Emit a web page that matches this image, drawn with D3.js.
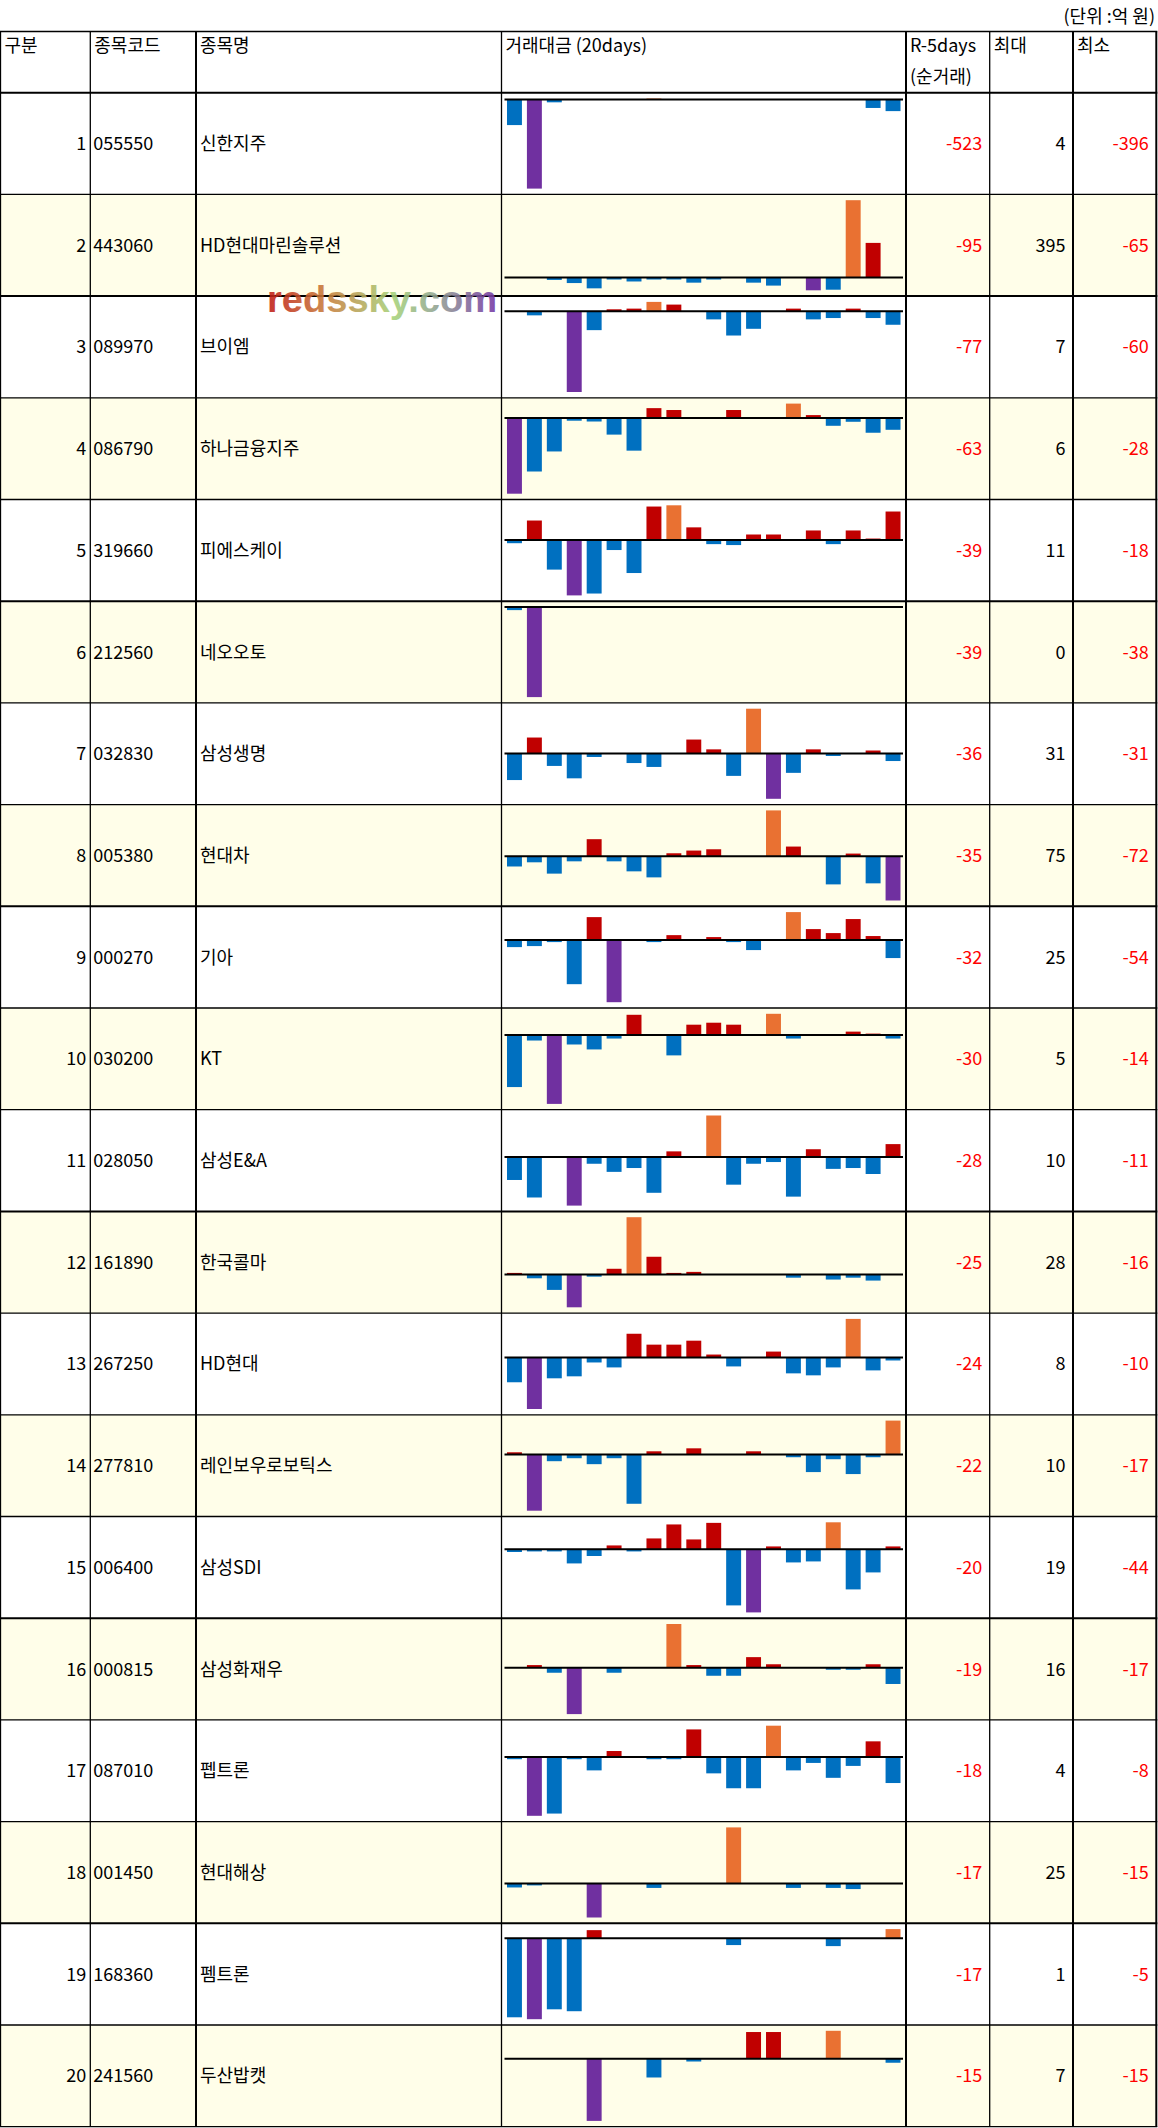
<!DOCTYPE html>
<html>
<head>
<meta charset="utf-8">
<script src="https://cdn.jsdelivr.net/npm/d3@7"></script>
<style>
  body { margin: 0; background: #fff; }
  svg text { font-family: "Noto Sans CJK KR", "Noto Sans", sans-serif; }
</style>
</head>
<body>
<div id="chart"></div>
<script>
// table columns
var headers = ["구분", "종목코드", "종목명", "거래대금 (20days)", "R-5days", "최대", "최소"];
var codes = ["055550", "443060", "089970", "086790", "319660", "212560", "032830", "005380", "000270", "030200",
             "028050", "161890", "267250", "277810", "006400", "000815", "087010", "001450", "168360", "241560"];
var names = ["신한지주", "HD현대마린솔루션", "브이엠", "하나금융지주", "피에스케이", "네오오토", "삼성생명", "현대차", "기아", "KT",
             "삼성E&A", "한국콜마", "HD현대", "레인보우로보틱스", "삼성SDI", "삼성화재우", "펩트론", "현대해상", "펨트론", "두산밥캣"];
var r5days = [-523, -95, -77, -63, -39, -39, -36, -35, -32, -30, -28, -25, -24, -22, -20, -19, -18, -17, -17, -15];
var maxVals = [4, 395, 7, 6, 11, 0, 31, 75, 25, 5, 10, 28, 8, 10, 19, 16, 4, 25, 1, 7];
var minVals = [-396, -65, -60, -28, -18, -38, -31, -72, -54, -14, -11, -16, -10, -17, -44, -17, -8, -15, -5, -15];

// 20 days of net flow per stock (most recent on the left)
var flows = [
  [-114, -396, -13, 0, 0, 0, 0, 4, 0, 0, 0, 0, 0, 0, 0, 0, 0, 0, -38, -52],
  [0, 0, -12, -28, -55, -10, -20, -10, -10, -26, -10, 0, -26, -41, 0, -65, -62, 395, 177, 0],
  [0, -3, 0, -60, -14, 1.5, 2, 7, 5, 0, -6, -18, -13, 0, 2, -6, -5, 2, -5, -10],
  [-28.3, -20, -12.5, -1, -1.3, -6.2, -12.2, 3.7, 3, 0, 0, 3, 0, 0, 5.4, 1.1, -2.9, -1.4, -5.5, -4.4],
  [-1, 6.3, -9.5, -17.8, -17.2, -3.2, -10.6, 10.8, 11.2, 4.1, -1.3, -1.6, 1.8, 1.8, 0, 3.1, -1.3, 3.1, 0.5, 9.2],
  [-1.3, -37.6, 0, 0, 0, 0, 0, 0, 0, 0, 0, 0, 0, 0, 0, 0, 0, 0, 0, 0],
  [-18.5, 11, -8.7, -17.3, -2.5, 0, -6.7, -9.4, 0, 9.6, 2.8, -15.6, 31, -31.5, -13.5, 2.8, -1.8, 0, 2, -5.3],
  [-16.6, -9.8, -28.2, -8.2, 27.8, -8.2, -24.5, -34.3, 4.9, 9.3, 11.4, 0, 0, 74.6, 15.8, 0, -45.7, 4.4, -44, -71.9],
  [-6.3, -5.4, -1.9, -38.8, 20, -54.6, 0, -1.9, 4.2, 0, 2.5, -1.9, -8.9, 0, 24.4, 9.5, 6, 18.3, 3.4, -15.9],
  [-10.5, -1.1, -13.9, -1.9, -2.9, -0.7, 4.1, 0, -4.1, 2.1, 2.5, 2.1, 0, 4.3, -0.7, 0, 0, 0.7, 0.3, -0.7],
  [-5.4, -9.5, 0, -11.4, -1.6, -3.5, -2.6, -8.4, 1.3, 0, 9.7, -6.5, -1.6, -1.2, -9.3, 1.8, -2.8, -2.6, -4, 3],
  [0.8, -1.8, -7.4, -15.8, -1, 2.8, 27.7, 8.6, 0.8, 1.3, 0, 0, 0, 0, -1.5, 0, -2.4, -1.5, -2.9, 0],
  [-5, -10.4, -4.2, -3.8, -1, -2, 4.8, 2.6, 2.6, 3.4, 0.6, -1.8, 0, 1.2, -3.2, -3.6, -2, 7.8, -2.6, -0.6],
  [0.7, -17, -2, -1.1, -2.9, -1.1, -14.9, 1, 0, 1.9, 0, 0, 1, 0, -0.8, -5.3, -1.4, -5.9, -0.8, 10.3],
  [-2, -1.6, -1.6, -10, -4.8, 2.6, -1.6, 7.5, 17.3, 6.8, 18.4, -39.4, -44.3, 1.9, -9.3, -8.6, 18.8, -28.2, -16.3, 1.9],
  [0, 1, -1.8, -16.9, 0, -1.8, 0, 0, 16, 1, -2.9, -2.9, 3.9, 1.3, 0, 0, -0.7, -0.7, 1.3, -5.9],
  [-0.3, -7.9, -7.6, -0.3, -1.8, 0.8, 0, -0.3, -0.3, 3.7, -2.2, -4.2, -4.2, 4.2, -1.8, -0.8, -2.8, -1.2, 2.1, -3.5],
  [-1.7, -0.8, 0, 0, -14.9, 0, 0, -1.9, 0, 0, 0, 24.7, 0, 0, -1.9, 0, -1.9, -2.4, 0, 0],
  [-4.56, -4.67, -4.1, -4.21, 0.46, 0, 0, 0, 0, 0, 0, -0.4, 0, 0, 0, 0, -0.46, 0, 0, 0.52],
  [0, 0, 0, 0, -15.2, 0, 0, -4.6, 0, -0.7, 0, 0, 6.5, 6.5, 0, 0, 6.8, 0, 0, -1]
];

var width = 1158, height = 2128;
var tableTop = 31.5, headH = 61.2, rowH = 101.7;
var edges = [0.5, 90.3, 196, 501.5, 906, 989.7, 1073, 1156.3];
var edgeW = [1.3, 1.3, 2, 1.3, 2, 1.3, 2, 2];
var thickRows = [0, 2, 5, 8, 11, 15, 18];   // row borders that render heavier
var fs = 18;

var svg = d3.select('#chart').append('svg')
    .attr('width', width)
    .attr('height', height)
    .style('display', 'block')
    .style('background', '#fff');

// row i top -> rowY(i)
var rowY = d3.scaleLinear().domain([0, 1]).range([tableTop + headH, tableTop + headH + rowH]);
var nRows = codes.length;
var tableBottom = rowY(nRows);

var x = d3.scaleBand().domain(d3.range(20))
    .range([edges[3] + 3, edges[4] - 3])
    .paddingInner(0.25).paddingOuter(0.125);

var barColor = function(v, vals) {
    if (v === d3.max(vals)) return '#E97132';
    if (v === d3.min(vals)) return '#7030A0';
    return v > 0 ? '#C00000' : '#0070C0';
};

// unit label
svg.append('text')
    .attr('x', 1155).attr('y', 23)
    .attr('text-anchor', 'end')
    .style('font-size', fs + 'px')
    .text('(단위 :억 원)');

// row backgrounds
svg.append('g').selectAll('rect')
    .data(codes)
    .enter().append('rect')
    .attr('x', 0)
    .attr('y', (d, i) => rowY(i))
    .attr('width', edges[7])
    .attr('height', rowH)
    .attr('fill', (d, i) => i % 2 ? '#FFFEE9' : '#fff');

// mini bar charts
var charts = svg.append('g').selectAll('g')
    .data(flows)
    .enter().append('g');

charts.each(function(vals, i) {
    var g = d3.select(this);
    var y = d3.scaleLinear()
        .domain([Math.min(0, d3.min(vals)), Math.max(0, d3.max(vals))])
        .range([rowY(i + 1) - 5.8, rowY(i) + 5.8]);
    g.selectAll('rect')
        .data(vals)
        .enter().append('rect')
        .attr('x', (d, j) => x(j))
        .attr('width', x.bandwidth())
        .attr('y', d => Math.min(y(d), y(0)))
        .attr('height', d => Math.abs(y(d) - y(0)))
        .attr('fill', d => barColor(d, vals));
    g.append('line')
        .attr('x1', edges[3] + 3).attr('x2', edges[4] - 3)
        .attr('y1', y(0)).attr('y2', y(0))
        .attr('stroke', '#000')
        .attr('stroke-width', 2);
});

// grid lines
var grid = svg.append('g');
grid.selectAll('line.h')
    .data(d3.range(nRows + 1))
    .enter().append('line')
    .attr('class', 'h')
    .attr('x1', 0).attr('x2', edges[7] + 1)
    .attr('y1', d => rowY(d)).attr('y2', d => rowY(d))
    .attr('stroke', '#000')
    .attr('stroke-width', d => thickRows.indexOf(d) >= 0 ? 2 : 1.3);
grid.append('line')
    .attr('x1', 0).attr('x2', edges[7] + 1)
    .attr('y1', tableTop).attr('y2', tableTop)
    .attr('stroke', '#000').attr('stroke-width', 1.5);
grid.selectAll('line.v')
    .data(edges)
    .enter().append('line')
    .attr('class', 'v')
    .attr('x1', d => d).attr('x2', d => d)
    .attr('y1', tableTop).attr('y2', tableBottom)
    .attr('stroke', '#000')
    .attr('stroke-width', (d, i) => edgeW[i]);

// header
var head = svg.append('g').style('font-size', fs + 'px');
head.selectAll('text')
    .data(headers)
    .enter().append('text')
    .attr('x', (d, i) => edges[i] + 4)
    .attr('y', tableTop + 20.5)
    .text(d => d);
head.append('text')
    .attr('x', edges[4] + 4)
    .attr('y', tableTop + 51)
    .text('(순거래)');

// body text
var body = svg.append('g').style('font-size', fs + 'px');
var mid = i => rowY(i) + rowH / 2 + 6.5;
var numFill = v => v < 0 ? '#FF0000' : '#000';

body.selectAll('text.rank').data(codes).enter().append('text')
    .attr('x', edges[1] - 4).attr('y', (d, i) => mid(i))
    .attr('text-anchor', 'end')
    .text((d, i) => i + 1);
body.selectAll('text.code').data(codes).enter().append('text')
    .attr('x', edges[1] + 3).attr('y', (d, i) => mid(i))
    .text(d => d);
body.selectAll('text.name').data(names).enter().append('text')
    .attr('x', edges[2] + 4).attr('y', (d, i) => mid(i))
    .text(d => d);

[[r5days, 5], [maxVals, 6], [minVals, 7]].forEach(function(c) {
    body.append('g').selectAll('text').data(c[0]).enter().append('text')
        .attr('x', edges[c[1]] - 7.5).attr('y', (d, i) => mid(i))
        .attr('text-anchor', 'end')
        .attr('fill', numFill)
        .text(d => d);
});

// watermark
var grad = svg.append('defs').append('linearGradient')
    .attr('id', 'wm')
    .attr('gradientUnits', 'userSpaceOnUse')
    .attr('x1', 267).attr('x2', 497).attr('y1', 0).attr('y2', 0);
[['0', '#C01A14'], ['0.25', '#C87A3A'], ['0.55', '#A6D27A'], ['0.72', '#93A890'], ['1', '#7434A4']]
    .forEach(s => grad.append('stop').attr('offset', s[0]).attr('stop-color', s[1]));
svg.append('text')
    .attr('x', 267).attr('y', 312)
    .attr('textLength', 230)
    .attr('lengthAdjust', 'spacingAndGlyphs')
    .style('font-family', '"Liberation Sans", Arial, sans-serif')
    .style('font-weight', 'bold')
    .style('font-size', '37px')
    .attr('fill', 'url(#wm)')
    .attr('opacity', 0.88)
    .text('redssky.com');
</script>
</body>
</html>
